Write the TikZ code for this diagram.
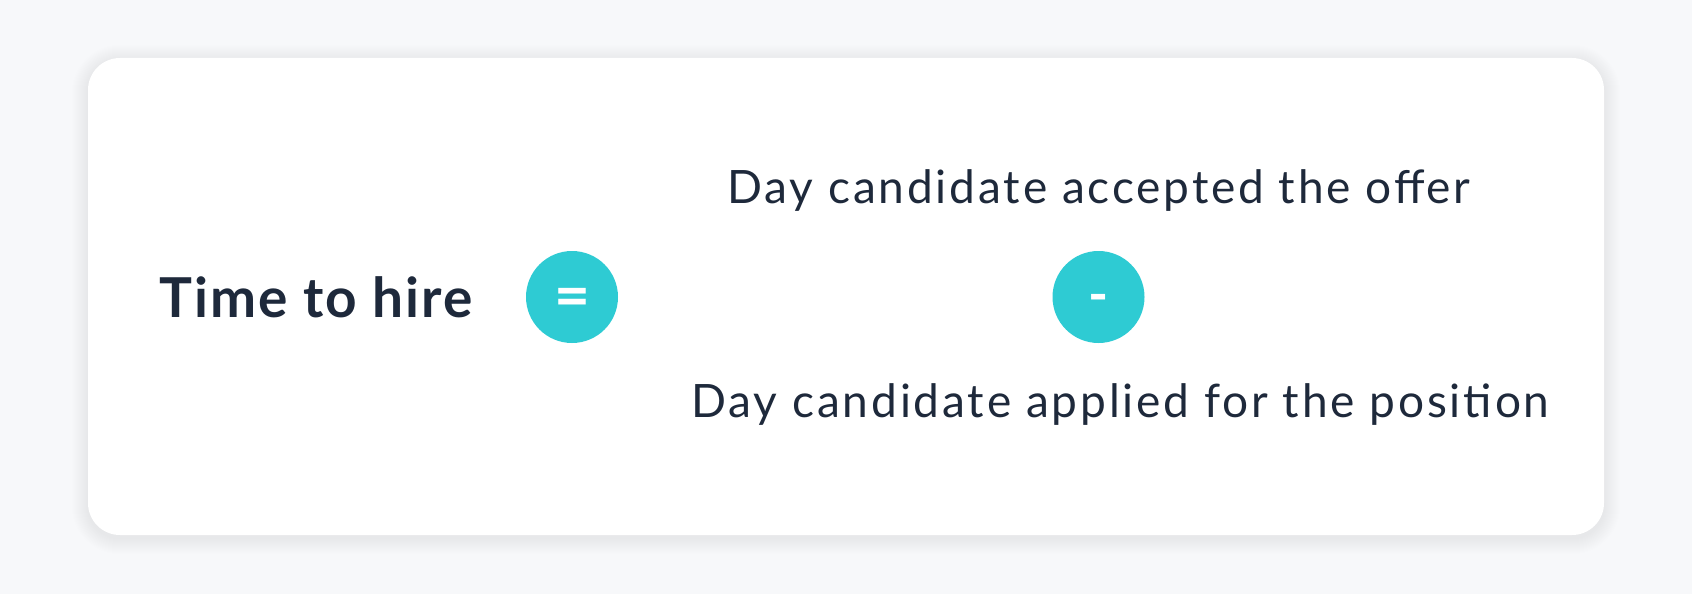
\documentclass[tikz,border=0pt]{standalone}
\usepackage{fontspec}
\setmainfont{Lato}
\definecolor{bgc}{HTML}{F7F8FA}
\definecolor{txt}{HTML}{1E293B}
\definecolor{teal}{HTML}{2ECBD3}
\definecolor{shade}{HTML}{8090A8}
\tikzset{
  card/.style={fill=white, rounded corners=32pt, draw=none},
  glow/.style={fill=shade, fill opacity=0.009, draw=none},
  op/.style={circle, fill=teal, minimum size=92pt, inner sep=0pt, text=white},
  sym/.style={text=white, inner sep=0pt},
  lbl/.style={text=txt, inner sep=0pt, font=\addfontfeatures{LetterSpace=6.2}\fontsize{46}{46}\selectfont},
  title/.style={text=txt, inner sep=0pt, font=\addfontfeatures{LetterSpace=3.8}\fontsize{55}{55}\selectfont\bfseries}
}
\begin{document}
\begin{tikzpicture}[x=1pt,y=-1pt]
\fill[bgc] (0,0) rectangle (1692,594);
\useasboundingbox (0,0) rectangle (1692,594);
\foreach \d in {1,2,...,16}{
  \fill[glow, rounded corners={32pt+\d pt}] (88-\d,58-\d+3) rectangle (1604+\d,535+\d+3);
}
\path[card] (88,58) rectangle (1604,535);
\node[title] (t) at (316,297) {Time to hire};
\node[op] (eq) at (572,297) {};
\node[sym, font=\fontsize{62}{62}\selectfont\bfseries, yshift=-6pt] (eqs) at (eq) {=};
\node[op] (minus) at (1098.5,297) {};
\node[sym, font=\fontsize{54}{54}\selectfont\bfseries, yshift=-7pt] (ms) at (minus) {-};
\node[lbl] (top) at (1099,191) {Day candidate accepted the offer};
\node[lbl] (bot) at (1120.5,405) {Day candidate applied for the position};
\end{tikzpicture}
\end{document}
